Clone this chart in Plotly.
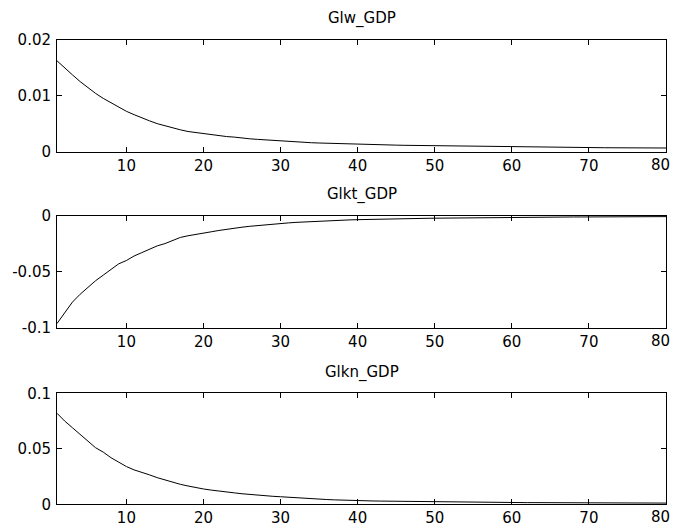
import plotly.graph_objects as go

# Impulse responses over 80 periods
periods = list(range(1, 81))

glw_gdp = [
    0.0162, 0.0149, 0.0137, 0.0125, 0.0114, 0.0104, 0.0095, 0.0087, 0.0079, 0.0072,
    0.0066, 0.0060, 0.0055, 0.0050, 0.0046, 0.0042, 0.0039, 0.0036, 0.0034, 0.0032,
    0.0030, 0.0028, 0.0027, 0.0026, 0.0024, 0.0023, 0.0022, 0.0021, 0.0020, 0.0019,
    0.0018, 0.0017, 0.00165, 0.0016, 0.00155, 0.0015, 0.00145, 0.0014, 0.00135, 0.0013,
    0.00128, 0.00125, 0.00122, 0.0012, 0.00117, 0.00114, 0.00112, 0.0011, 0.00108, 0.00106,
    0.00104, 0.00102, 0.0010, 0.00098, 0.00096, 0.00094, 0.00092, 0.0009, 0.00088, 0.00086,
    0.00084, 0.00082, 0.0008, 0.00079, 0.00078, 0.00077, 0.00076, 0.00075, 0.00074, 0.00073,
    0.00072, 0.00071, 0.0007, 0.00069, 0.00068, 0.00068, 0.00067, 0.00067, 0.00066, 0.00066,
]

glkt_gdp = [
    -0.096, -0.086, -0.077, -0.070, -0.064, -0.058, -0.053, -0.048, -0.043, -0.040,
    -0.036, -0.033, -0.030, -0.027, -0.025, -0.022, -0.0195, -0.018, -0.017, -0.0158,
    -0.0145, -0.0133, -0.0122, -0.0113, -0.0104, -0.0096, -0.0089, -0.0083, -0.0077, -0.0071,
    -0.0066, -0.0061, -0.0057, -0.0053, -0.0050, -0.0047, -0.0044, -0.0041, -0.0039, -0.0037,
    -0.0035, -0.0033, -0.0031, -0.0030, -0.0029, -0.0028, -0.0027, -0.0026, -0.0025, -0.0024,
    -0.0023, -0.0022, -0.0021, -0.0021, -0.0020, -0.0019, -0.0019, -0.0018, -0.0018, -0.0017,
    -0.0016, -0.0016, -0.0015, -0.0015, -0.0014, -0.0014, -0.0014, -0.0013, -0.0013, -0.0013,
    -0.0012, -0.0012, -0.0012, -0.0012, -0.0011, -0.0011, -0.0011, -0.0011, -0.0011, -0.0010,
]

glkn_gdp = [
    0.082, 0.075, 0.069, 0.063, 0.057, 0.051, 0.047, 0.042, 0.038, 0.034,
    0.031, 0.029, 0.0265, 0.024, 0.022, 0.0195, 0.018, 0.0165, 0.015, 0.0138,
    0.0128, 0.0118, 0.011, 0.0103, 0.0095, 0.0088, 0.0082, 0.0077, 0.0072, 0.0068,
    0.0063, 0.0058, 0.0053, 0.0049, 0.0046, 0.0043, 0.0040, 0.0037, 0.0035, 0.0033,
    0.0031, 0.0030, 0.0029, 0.0028, 0.0027, 0.0026, 0.0024, 0.0023, 0.0022, 0.0021,
    0.0021, 0.0020, 0.0019, 0.0019, 0.0018, 0.0018, 0.0017, 0.0017, 0.0016, 0.0016,
    0.0016, 0.0015, 0.0015, 0.0015, 0.0014, 0.0014, 0.0014, 0.0014, 0.0013, 0.0013,
    0.0013, 0.0013, 0.0013, 0.0012, 0.0012, 0.0012, 0.0012, 0.0012, 0.0012, 0.0011,
]

titles = ["Glw_GDP", "Glkt_GDP", "Glkn_GDP"]
x_ticks = [10, 20, 30, 40, 50, 60, 70, 80]
x_ticktext = ["10", "20", "30", "40", "50", "60", "70", ""]
x_last_label = "80"
y_ranges = [[0, 0.02], [-0.1, 0], [0, 0.1]]
y_tickvals = [[0, 0.01, 0.02], [-0.1, -0.05, 0], [0, 0.05, 0.1]]
y_ticktext = [["0", "0.01", "0.02"], ["-0.1", "-0.05", "0"], ["0", "0.05", "0.1"]]
series = [glw_gdp, glkt_gdp, glkn_gdp]

W, H = 673, 532
x_dom = [57 / W, 666 / W]
# (top, bottom) pixel rows of each panel
panel_px = [(39.5, 151.7), (215.5, 328.0), (393.3, 504.3)]

FONT = dict(family="DejaVu Sans", size=15, color="black")

fig = go.Figure()
annotations = []
for i, (vals, title) in enumerate(zip(series, titles)):
    n = "" if i == 0 else str(i + 1)
    top, bot = panel_px[i]
    y_dom = [1 - bot / H, 1 - top / H]
    fig.add_trace(go.Scatter(
        x=periods, y=vals, mode="lines",
        line=dict(color="black", width=1),
        xaxis="x" + n, yaxis="y" + n, showlegend=False,
    ))
    axis_common = dict(
        showline=True, linecolor="black", linewidth=1, mirror="ticks",
        ticks="inside", ticklen=5, tickcolor="black", tickwidth=1,
        showgrid=False, zeroline=False, tickfont=FONT, fixedrange=True,
        automargin=False,
    )
    fig.layout["xaxis" + n] = dict(
        domain=x_dom, anchor="y" + n, range=[1, 80],
        tickmode="array", tickvals=x_ticks, ticktext=x_ticktext,
        ticklabelstandoff=0, **axis_common,
    )
    fig.layout["yaxis" + n] = dict(
        domain=y_dom, anchor="x" + n, range=y_ranges[i],
        tickmode="array", tickvals=y_tickvals[i], ticktext=y_ticktext[i],
        ticklabelstandoff=2, **axis_common,
    )
    annotations.append(dict(
        text=title, xref="paper", yref="paper",
        x=(x_dom[0] + x_dom[1]) / 2, y=1 - (top - 21) / H,
        xanchor="center", yanchor="middle", showarrow=False, font=FONT,
    ))
    # label for the final tick, right-aligned so it stays on the page
    annotations.append(dict(
        text=x_last_label, xref="x" + n, yref="y" + n + " domain",
        x=x_ticks[-1], y=0, xanchor="right", yanchor="middle",
        xshift=6, yshift=-13, showarrow=False, font=FONT,
    ))

fig.update_layout(
    width=W, height=H, autosize=False,
    margin=dict(l=0, r=0, t=0, b=0, autoexpand=False),
    paper_bgcolor="white", plot_bgcolor="white",
    annotations=annotations,
)

fig.write_html("out.html")
